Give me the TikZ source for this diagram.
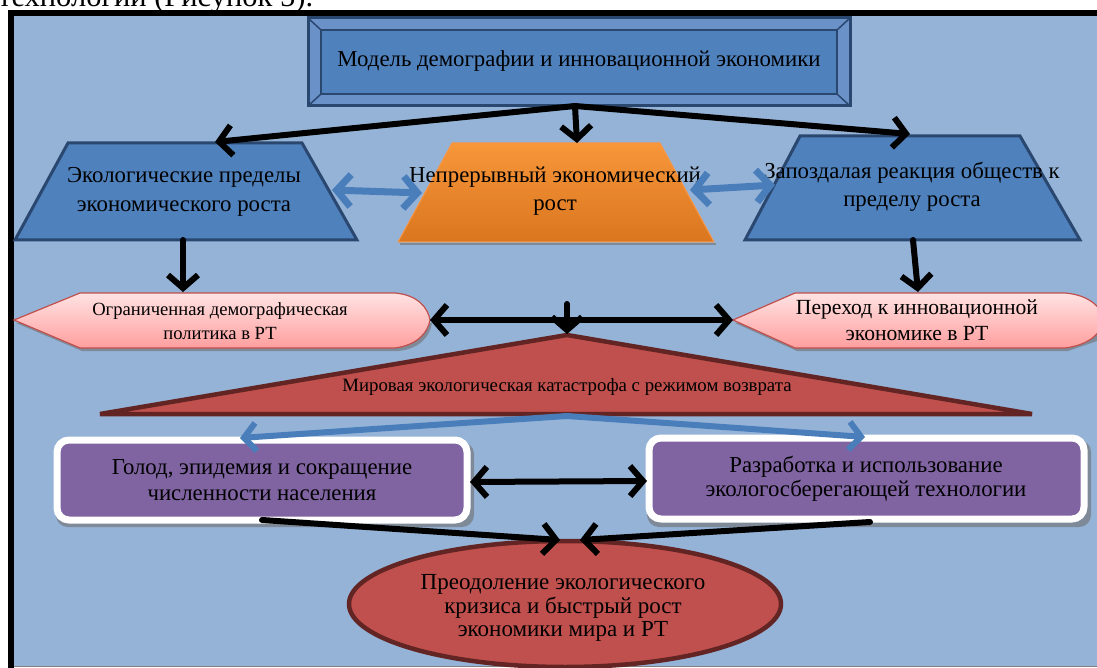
\documentclass[tikz,border=0pt]{standalone}
\usepackage{fontspec}
\setmainfont{Liberation Serif}
\usetikzlibrary{arrows.meta,shapes.geometric}
\definecolor{bg}{HTML}{95B3D7}
\definecolor{bevel}{HTML}{6A91C8}
\definecolor{innerblue}{HTML}{4F81BD}
\definecolor{darkb}{HTML}{2A4770}
\definecolor{orA}{HTML}{F8963A}
\definecolor{orB}{HTML}{D9761F}
\definecolor{orline}{HTML}{F79646}
\definecolor{pinkA}{HTML}{FFE3E3}
\definecolor{pinkB}{HTML}{FF9E9E}
\definecolor{pinkline}{HTML}{C0504D}
\definecolor{redfill}{HTML}{C0504D}
\definecolor{redline}{HTML}{632523}
\definecolor{purp}{HTML}{8064A2}
\definecolor{bluearrow}{HTML}{4A7EBB}
\definecolor{shadow}{HTML}{7F8A99}
\tikzset{
  txt/.style={align=center, inner sep=0pt, font=\fontsize{22.8}{28.5}\selectfont},
  smalltxt/.style={align=center, inner sep=0pt, font=\fontsize{18.6}{24}\selectfont},
  blk/.style={draw=black, line width=6pt, line cap=round, -{Straight Barb[length=13pt,width=30pt,line width=6pt]}},
  blkboth/.style={draw=black, line width=6pt, line cap=round, {Straight Barb[length=13pt,width=30pt,line width=6pt]}-{Straight Barb[length=13pt,width=30pt,line width=6pt]}},
  blu/.style={draw=bluearrow, line width=6pt, line cap=round, -{Straight Barb[length=12pt,width=28pt,line width=6pt]}},
  bluboth/.style={draw=bluearrow, line width=7pt, line cap=round, {Straight Barb[length=14pt,width=32pt,line width=7pt]}-{Straight Barb[length=14pt,width=32pt,line width=7pt]}},
  trapblue/.style={fill=innerblue, draw=darkb, line width=3pt, line join=miter},
  redshape/.style={fill=redfill, draw=redline, line width=4.5pt},
  pinkshape/.style={top color=pinkA, bottom color=pinkB, draw=pinkline, line width=1.2pt},
  purpbox/.style={fill=purp, draw=white, line width=7pt, rounded corners=12pt},
}
\begin{document}
\begin{tikzpicture}[x=1pt,y=-1pt]
\useasboundingbox (0,0) rectangle (1097,668);
\clip (0,0) rectangle (1097,668);
\fill[white] (0,0) rectangle (1097,668);
\node[anchor=base west, inner sep=0pt, font=\fontsize{30.5}{31}\selectfont] (cap) at (-2,7) {технологии (Рисунок 5).};
% frame and background
\fill[bg] (14,16) rectangle (1100,666);
\fill[black] (8,10) rectangle (1100,16);
\fill[black] (8,10) rectangle (14,668);
\draw[gray, line width=1pt] (14,666.5) -- (1100,666.5);

% top bevel box
\fill[bevel] (308,18) rectangle (850,106);
\fill[innerblue] (321,30) rectangle (837,94);
\draw[darkb, line width=1.5pt] (308,18) -- (321,30) (850,18) -- (837,30) (308,106) -- (321,94) (850,106) -- (837,94);
\draw[darkb, line width=3pt] (308,18) rectangle (850,106);
\draw[darkb, line width=2.5pt] (321,30) rectangle (837,94);
\node[txt] (model) at (579,61) {Модель демографии и инновационной экономики};
\coordinate (mb) at (575,106);

% trapezoids
\filldraw[trapblue] (68,143) -- (302,143) -- (357,240) -- (15,240) -- cycle;
\node[txt] (ecol) at (184,192) {Экологические пределы\\экономического роста};
\coordinate (ecolT) at (215,142);
\coordinate (ecolR) at (332,190);
\coordinate (ecolB) at (183,240);

\fill[shadow] (400,243) -- (716,243) -- (716,245) -- (400,245) -- cycle;
\path[top color=orA, bottom color=orB, draw=orline, line width=1pt] (452,143) -- (660,143) -- (714,242) -- (398,242) -- cycle;
\node[txt] (grow) at (555,191) {Непрерывный экономический\\рост};
\coordinate (growT) at (577,143);
\coordinate (growL) at (422,193);
\coordinate (growR) at (690,190);

\filldraw[trapblue] (800,136) -- (1020,136) -- (1080,240) -- (745,240) -- cycle;
\node[txt] (late) at (912,187) {Запоздалая реакция обществ к\\пределу роста};
\coordinate (lateT) at (910,134);
\coordinate (lateL) at (775,185);
\coordinate (lateB) at (913,240);

% arrows from top box
\draw[blk] (mb) -- (ecolT);
\draw[blk] (mb) -- (growT);
\draw[blk] (mb) -- (lateT);
% blue double arrows
\draw[bluboth] (ecolR) -- (growL);
\draw[bluboth] (growR) -- (lateL);

% pink shapes
\fill[shadow] (16,323) -- (82,351) -- (398,351) .. controls (420,349) and (430,336) .. (432,323) -- cycle;
\path[pinkshape] (14,320) -- (80,293) -- (395,293) .. controls (418,295) and (428,308) .. (430,320) .. controls (428,332) and (418,345) .. (395,348) -- (80,348) -- cycle;
\node[smalltxt] (demo) at (220,321) {Ограниченная демографическая\\политика в РТ};
\coordinate (demoT) at (183,292);
\coordinate (demoR) at (430,320);

\fill[shadow] (735,323) -- (797,351) -- (1068,351) -- (1100,340) -- (1100,323) -- cycle;
\path[pinkshape] (733,320) -- (795,293) -- (1065,293) .. controls (1090,295) and (1102,308) .. (1104,320) .. controls (1102,332) and (1090,345) .. (1065,348) -- (795,348) -- cycle;
\node[txt, font=\fontsize{21.6}{26}\selectfont] (innov) at (917,320) {Переход к инновационной\\экономике в РТ};
\coordinate (innovT) at (918,292);
\coordinate (innovL) at (733,320);

\draw[blk] (ecolB) -- (demoT);
\draw[blk] (lateB) -- (innovT);
\draw[blkboth] (demoR) -- (innovL);

% triangle
\filldraw[redshape, line join=miter] (567,335) -- (1032,414) -- (100,414) -- cycle;
\node[smalltxt, font=\fontsize{18.8}{20}\selectfont] (cat) at (567,387) {Мировая экологическая катастрофа с режимом возврата};
\coordinate (catTop) at (567,304);
\coordinate (catApex) at (567,334);
\coordinate (catB) at (567,416);
\draw[blk] (catTop) -- (catApex);

% purple boxes
\fill[shadow, rounded corners=12pt] (56,442) rectangle (474,527);
\draw[purpbox] (57,440) rectangle (467,520);
\node[txt, font=\fontsize{22.8}{25.5}\selectfont] (hunger) at (262,480) {Голод, эпидемия и сокращение\\численности населения};
\coordinate (hungerT) at (240,438);
\coordinate (hungerR) at (470,482);
\coordinate (hungerB) at (262,520);

\fill[shadow, rounded corners=12pt] (647,440) rectangle (1091,527);
\draw[purpbox] (649,438) rectangle (1084,519);
\node[txt, font=\fontsize{22.8}{24.5}\selectfont] (tech) at (866,479) {Разработка и использование\\экологосберегающей технологии};
\coordinate (techT) at (865,437);
\coordinate (techL) at (647,481);
\coordinate (techB) at (870,522);

\draw[blu] (catB) -- (hungerT);
\draw[blu] (catB) -- (techT);
\draw[blkboth] (hungerR) -- (techL);

% ellipse
\node[ellipse, redshape, minimum width=432pt, minimum height=126pt, inner sep=0pt] (final) at (565,604) {};
\node[align=center, inner sep=0pt, font=\fontsize{23}{23.5}\selectfont] (finaltxt) at (563,608) {Преодоление экологического\\кризиса и быстрый рост\\экономики мира и РТ};
\coordinate (finalL) at (560,540);
\coordinate (finalR) at (580,540);
\draw[blk] (hungerB) -- (finalL);
\draw[blk] (techB) -- (finalR);
\end{tikzpicture}
\end{document}
